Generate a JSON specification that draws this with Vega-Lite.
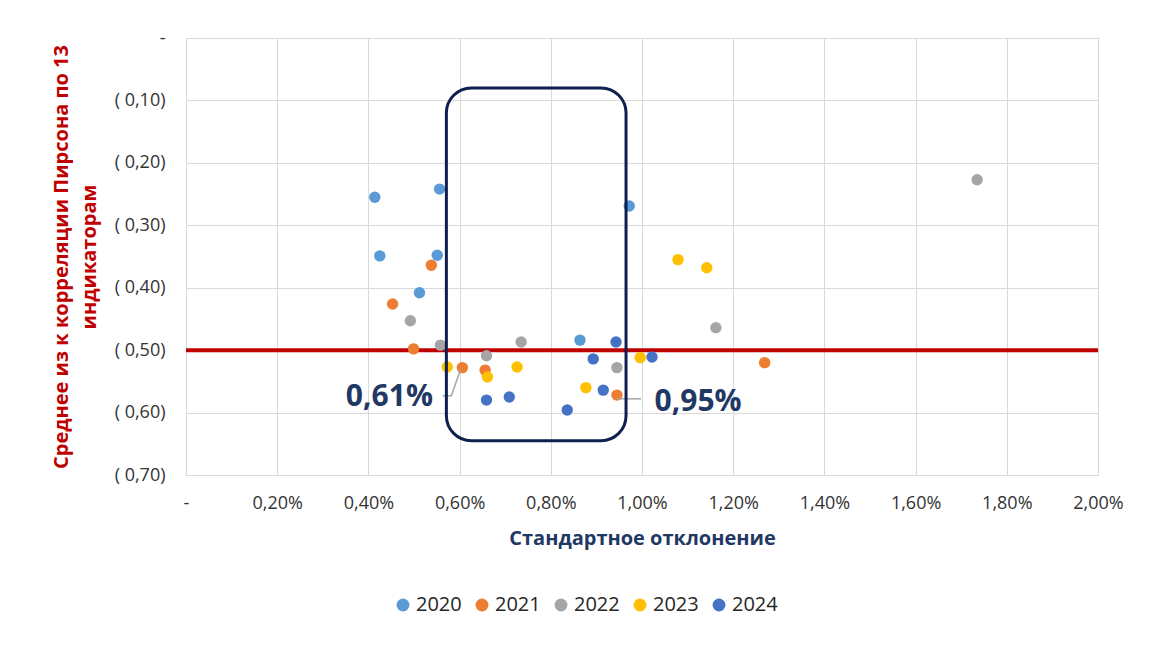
{
  "$schema": "https://vega.github.io/schema/vega-lite/v6.json",
  "width": 912,
  "height": 437,
  "autosize": {"type": "none"},
  "padding": {"left": 186, "top": 38, "right": 73, "bottom": 197},
  "background": "white",
  "config": {
    "font": "Open Sans",
    "view": {"stroke": "#D9D9D9", "strokeWidth": 1},
    "axis": {
      "gridColor": "#D9D9D9",
      "gridWidth": 1,
      "domain": false,
      "ticks": false,
      "labelFont": "Open Sans",
      "labelFontSize": 18,
      "labelColor": "#333333",
      "titleFont": "Open Sans"
    }
  },
  "datasets": {
    "points": [
      {"year": "2020", "sd": 0.414, "corr": -0.255},
      {"year": "2020", "sd": 0.556, "corr": -0.242},
      {"year": "2020", "sd": 0.972, "corr": -0.269},
      {"year": "2020", "sd": 0.425, "corr": -0.349},
      {"year": "2020", "sd": 0.551, "corr": -0.348},
      {"year": "2020", "sd": 0.512, "corr": -0.408},
      {"year": "2020", "sd": 0.864, "corr": -0.484},
      {"year": "2021", "sd": 0.538, "corr": -0.364},
      {"year": "2021", "sd": 0.453, "corr": -0.426},
      {"year": "2021", "sd": 0.499, "corr": -0.498},
      {"year": "2021", "sd": 0.606, "corr": -0.528},
      {"year": "2021", "sd": 0.656, "corr": -0.532},
      {"year": "2021", "sd": 0.945, "corr": -0.572},
      {"year": "2021", "sd": 1.269, "corr": -0.520},
      {"year": "2022", "sd": 1.735, "corr": -0.227},
      {"year": "2022", "sd": 1.162, "corr": -0.464},
      {"year": "2022", "sd": 0.492, "corr": -0.453},
      {"year": "2022", "sd": 0.558, "corr": -0.492},
      {"year": "2022", "sd": 0.659, "corr": -0.509},
      {"year": "2022", "sd": 0.735, "corr": -0.487},
      {"year": "2022", "sd": 0.945, "corr": -0.528},
      {"year": "2023", "sd": 1.079, "corr": -0.355},
      {"year": "2023", "sd": 1.142, "corr": -0.368},
      {"year": "2023", "sd": 0.573, "corr": -0.527},
      {"year": "2023", "sd": 0.661, "corr": -0.543},
      {"year": "2023", "sd": 0.726, "corr": -0.527},
      {"year": "2023", "sd": 0.877, "corr": -0.560},
      {"year": "2023", "sd": 0.996, "corr": -0.512},
      {"year": "2024", "sd": 0.659, "corr": -0.580},
      {"year": "2024", "sd": 0.709, "corr": -0.575},
      {"year": "2024", "sd": 0.836, "corr": -0.596},
      {"year": "2024", "sd": 0.893, "corr": -0.514},
      {"year": "2024", "sd": 0.915, "corr": -0.564},
      {"year": "2024", "sd": 0.943, "corr": -0.487},
      {"year": "2024", "sd": 1.022, "corr": -0.511}
    ],
    "leaders": [
      {"id": "a", "sd": 0.563, "corr": -0.573},
      {"id": "a", "sd": 0.582, "corr": -0.573},
      {"id": "a", "sd": 0.602, "corr": -0.531},
      {"id": "b", "sd": 0.945, "corr": -0.578},
      {"id": "b", "sd": 0.998, "corr": -0.578}
    ],
    "labels": [
      {"text": "0,61%", "sd": 0.446, "corr": -0.575},
      {"text": "0,95%", "sd": 1.123, "corr": -0.583}
    ]
  },
  "layer": [
    {
      "data": {"values": [{"corr": -0.5}]},
      "mark": {"type": "rule", "color": "#C00000", "strokeWidth": 4},
      "encoding": {
        "y": {"field": "corr", "type": "quantitative"}
      }
    },
    {
      "data": {"name": "points"},
      "mark": {"type": "circle", "size": 130, "opacity": 1},
      "encoding": {
        "x": {
          "field": "sd",
          "type": "quantitative",
          "scale": {"domain": [0, 2], "nice": false},
          "axis": {
            "values": [0, 0.2, 0.4, 0.6, 0.8, 1.0, 1.2, 1.4, 1.6, 1.8, 2.0],
            "labelExpr": "datum.value == 0 ? '-' : replace(format(datum.value, '.2f'), '.', ',') + '%'",
            "labelFlush": false,
            "labelPadding": 19,
            "title": "Стандартное отклонение",
            "titleFontSize": 20,
            "titleFontWeight": "bold",
            "titleColor": "#1F3864",
            "titlePadding": 16
          }
        },
        "y": {
          "field": "corr",
          "type": "quantitative",
          "scale": {"domain": [-0.7, 0], "nice": false},
          "axis": {
            "values": [0, -0.1, -0.2, -0.3, -0.4, -0.5, -0.6, -0.7],
            "labelExpr": "datum.value == 0 ? '-' : '( ' + replace(format(abs(datum.value), '.2f'), '.', ',') + ')'",
            "labelPadding": 21,
            "title": ["Среднее из к корреляции Пирсона по 13", "индикаторам"],
            "titleFontSize": 20,
            "titleFontWeight": "bold",
            "titleColor": "#C00000",
            "titleLineHeight": 28,
            "titlePadding": 15
          }
        },
        "color": {
          "field": "year",
          "type": "nominal",
          "scale": {
            "domain": ["2020", "2021", "2022", "2023", "2024"],
            "range": ["#5B9BD5", "#ED7D31", "#A5A5A5", "#FFC000", "#4472C4"]
          },
          "legend": {
            "title": null,
            "orient": "none",
            "direction": "horizontal",
            "legendX": 207,
            "legendY": 557,
            "symbolType": "circle",
            "symbolSize": 165,
            "symbolOpacity": 1,
            "labelFontSize": 20,
            "labelColor": "#262626",
            "labelFont": "Open Sans",
            "labelOffset": 3,
            "columnPadding": 10
          }
        }
      }
    },
    {
      "data": {"name": "leaders"},
      "mark": {"type": "line", "color": "#A6A6A6", "strokeWidth": 1.5},
      "encoding": {
        "x": {"field": "sd", "type": "quantitative"},
        "y": {"field": "corr", "type": "quantitative"},
        "detail": {"field": "id", "type": "nominal"}
      }
    },
    {
      "data": {"name": "labels"},
      "mark": {"type": "text", "fontSize": 30, "fontWeight": "bold", "color": "#1F3864", "align": "center", "baseline": "middle"},
      "encoding": {
        "x": {"field": "sd", "type": "quantitative"},
        "y": {"field": "corr", "type": "quantitative"},
        "text": {"field": "text"}
      }
    },
    {
      "data": {"values": [{"x1": 0.571, "x2": 0.965, "y1": -0.08, "y2": -0.645}]},
      "mark": {"type": "rect", "fill": null, "fillOpacity": 0, "stroke": "#0F1F4F", "strokeWidth": 3, "cornerRadius": 25},
      "encoding": {
        "x": {"field": "x1", "type": "quantitative"},
        "x2": {"field": "x2"},
        "y": {"field": "y1", "type": "quantitative"},
        "y2": {"field": "y2"}
      }
    }
  ]
}
